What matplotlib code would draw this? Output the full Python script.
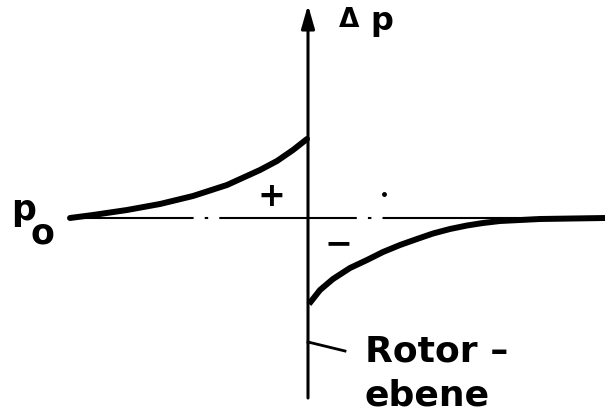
import matplotlib.pyplot as plt
import numpy as np

plt.rcParams['lines.scale_dashes'] = False

# distance from rotor plane (arbitrary units) and pressure change
x_up = [-2.37, -2.14, -1.80, -1.47, -1.14, -0.80, -0.47, -0.30, -0.14, 0.0]
dp_up = [0.0, 0.03, 0.08, 0.14, 0.22, 0.33, 0.48, 0.57, 0.68, 0.79]

x_down = [0.02, 0.13, 0.26, 0.43, 0.60, 0.76, 0.93, 1.10, 1.26, 1.43, 1.60, 1.76, 1.93, 2.33, 2.98]
dp_down = [-0.86, -0.72, -0.61, -0.50, -0.42, -0.34, -0.27, -0.21, -0.155, -0.11, -0.075, -0.05, -0.03, -0.01, 0.0]

p0_line = [-2.37, 2.98]

fig = plt.figure(figsize=(6.05, 4.17), dpi=100)
fig.set_facecolor('w')
ax = fig.add_axes([0, 0, 1, 1])
ax.set_xlim(-3.07, 2.98)
ax.set_ylim(-1.99, 2.18)
ax.axis('off')

# p0 reference line (dash-dot)
ax.plot(p0_line, [0, 0], color='k', lw=1.5,
        linestyle=(10, (99, 8, 2.5, 8)))

# pressure curves
ax.plot(x_up, dp_up, color='k', lw=4.3, solid_capstyle='round', solid_joinstyle='round')
ax.plot(x_down, dp_down, color='k', lw=4.3, solid_capstyle='butt', solid_joinstyle='round')

# rotor plane axis with arrow
ax.annotate('', xy=(0.01, 2.13), xytext=(0.01, -1.80),
            arrowprops=dict(arrowstyle='-|>,head_length=1.4,head_width=0.4',
                            lw=2.2, color='k', shrinkA=0, shrinkB=0))

# leader line to label
ax.plot([0.01, 0.38], [-1.24, -1.33], color='k', lw=2.0)

ax.text(0.32, 1.91, '\u0394', fontsize=19, fontweight='bold', ha='left', va='baseline')
ax.text(0.63, 1.88, 'p', fontsize=23, fontweight='bold', ha='left', va='baseline')

ax.text(-2.96, -0.02, 'p', fontsize=25, fontweight='bold', ha='left', va='baseline')
ax.text(-2.77, -0.25, 'o', fontsize=25, fontweight='bold', ha='left', va='baseline')

ax.text(-0.36, 0.22, '+', fontsize=24, fontweight='bold', ha='center', va='center')
ax.text(0.32, -0.26, '\u2212', fontsize=24, fontweight='bold', ha='center', va='center')

ax.text(0.58, -1.44, 'Rotor \u2013', fontsize=26, fontweight='bold', ha='left', va='baseline')
ax.text(0.58, -1.88, 'ebene', fontsize=26, fontweight='bold', ha='left', va='baseline')

ax.plot([0.77], [0.24], marker='o', ms=2.5, color='k')

fig.savefig('out.png', dpi=100, facecolor='w')
